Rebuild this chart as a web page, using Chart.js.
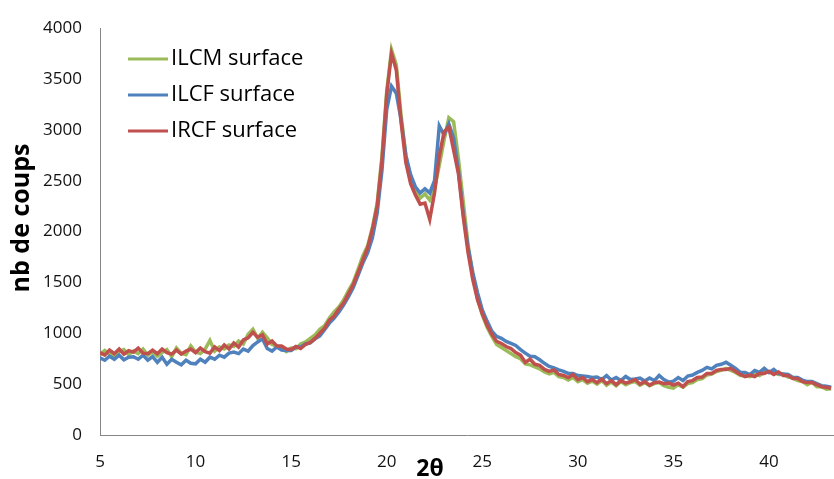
<!DOCTYPE html>
<html>
<head>
<meta charset="utf-8">
<script src="https://cdn.jsdelivr.net/npm/chart.js@4.4.0/dist/chart.umd.min.js"></script>
<style>
html, body { margin: 0; padding: 0; background: #fff; }
</style>
</head>
<body>
<canvas id="xrd" width="834" height="479"></canvas>
<script>
// 2theta grid: 5.00, 5.25, ... 43.25
const thetaStart = 5, thetaStep = 0.25;

const ilcm = [
    790, 830, 795, 780, 820, 840, 790, 825,
    800, 845, 785, 815, 775, 810, 840, 770,
    855, 805, 790, 875, 815, 800, 845, 930,
    825, 865, 845, 885, 870, 925, 895, 990,
    1040, 950, 1010, 955, 890, 875, 855, 820,
    855, 850, 895, 915, 950, 985, 1040, 1075,
    1150, 1210, 1260, 1330, 1420, 1500, 1630, 1760,
    1860, 2040, 2280, 2740, 3380, 3790, 3640, 3150,
    2750, 2510, 2400, 2330, 2370, 2310, 2420, 2650,
    2900, 3120, 3080, 2720, 2300, 1880, 1580, 1340,
    1180, 1060, 970, 890, 860, 830, 800, 770,
    750, 700, 690, 670, 650, 620, 600, 615,
    575, 565, 540, 565, 525, 545, 510, 530,
    500, 535, 490, 520, 485, 525, 495, 515,
    525, 490, 515, 485, 505, 515, 485, 470,
    460, 495, 470, 505, 515, 545, 555, 590,
    600, 625, 635, 655, 635, 615, 585, 585,
    575, 605, 585, 615, 625, 615, 595, 595,
    570, 560, 535, 525, 495, 520, 475, 475,
    450, 455
];
const ilcf = [
    760, 735, 775, 745, 785, 740, 765, 770,
    745, 785, 735, 770, 715, 765, 695, 745,
    715, 690, 735, 705, 700, 745, 715, 765,
    745, 785, 765, 805, 815, 800, 845, 825,
    880, 915, 945, 850, 825, 865, 835, 830,
    830, 865, 865, 895, 905, 945, 975, 1035,
    1100, 1150, 1210, 1280, 1360, 1450, 1570, 1690,
    1790, 1940, 2180, 2600, 3200, 3430, 3360, 3100,
    2750, 2560, 2440, 2380, 2420, 2380, 2500, 3040,
    2950, 3060, 2920, 2600, 2180, 1850, 1600, 1400,
    1230, 1120, 1020, 970, 950, 920, 900, 880,
    840, 805, 775, 770, 740, 705, 675, 660,
    640, 625, 605, 605, 585, 580, 575, 565,
    570, 545, 585, 540, 565, 535, 575, 545,
    550, 560, 530, 560, 535, 585, 545, 520,
    530, 565, 535, 580, 590, 615, 635, 665,
    650, 685, 695, 715, 685, 655, 615, 615,
    595, 635, 615, 655, 615, 645, 605, 600,
    595, 565, 565, 540, 525, 525, 505, 485,
    480, 470
];
const ircf = [
    810, 785, 835, 800, 845, 795, 830, 815,
    855, 805, 800, 835, 800, 845, 810, 795,
    835, 795, 825, 845, 810, 855, 820, 805,
    865, 830, 885, 845, 905, 865, 935, 955,
    1010, 960, 985, 895, 925, 875, 875, 845,
    840, 870, 850, 890, 910, 950, 1000, 1050,
    1130, 1170, 1240, 1300, 1390, 1480, 1600, 1720,
    1840, 2020, 2250, 2700, 3350, 3750, 3590, 3080,
    2680, 2470, 2360, 2270, 2280, 2120, 2380, 2740,
    2980, 3030, 2800, 2570, 2150, 1800, 1530, 1330,
    1190, 1080, 990, 920, 900, 870, 850, 810,
    785, 715, 745, 695, 685, 645, 625, 640,
    595, 585, 565, 595, 545, 565, 525, 545,
    515, 550, 505, 535, 495, 535, 510, 525,
    545, 500, 525, 490, 515, 520, 505, 510,
    490, 510, 475, 525, 535, 565, 570, 605,
    605, 635, 645, 645, 655, 625, 595, 575,
    590, 575, 605, 605, 625, 595, 620, 585,
    585, 555, 555, 525, 515, 515, 495, 475,
    470, 460
];

const seriesLabels = ['ILCM surface', 'ILCF surface', 'IRCF surface'];
const seriesColors = ['#9BBB59', '#4F81BD', '#C0504D'];

function toPoints(values) {
    return values.map((v, i) => ({ x: thetaStart + i * thetaStep, y: v }));
}

// legend inside the plot + axis titles
const decorations = {
    id: 'decorations',
    afterDraw(chart) {
        const ctx = chart.ctx;
        ctx.save();
        chart.data.datasets.forEach((ds, i) => {
            const y = 59 + i * 36;
            ctx.strokeStyle = ds.borderColor;
            ctx.lineWidth = 3;
            ctx.beginPath();
            ctx.moveTo(128, y);
            ctx.lineTo(168, y);
            ctx.stroke();
            ctx.fillStyle = '#000';
            ctx.font = '22px "Open Sans"';
            ctx.textBaseline = 'middle';
            ctx.textAlign = 'left';
            ctx.fillText(ds.label, 171, y);
        });

        ctx.font = 'bold 23px "Open Sans"';
        ctx.fillStyle = '#000';
        ctx.textAlign = 'center';
        ctx.textBaseline = 'middle';
        ctx.fillText('2θ', 430, 469);

        ctx.font = 'bold 25px "Open Sans"';
        ctx.translate(22, 218);
        ctx.rotate(-Math.PI / 2);
        ctx.fillText('nb de coups', 0, 0);
        ctx.restore();
    }
};

new Chart(document.getElementById('xrd'), {
    type: 'line',
    data: {
        datasets: [
            { label: seriesLabels[0], data: toPoints(ilcm), borderColor: seriesColors[0], order: 3 },
            { label: seriesLabels[1], data: toPoints(ilcf), borderColor: seriesColors[1], order: 2 },
            { label: seriesLabels[2], data: toPoints(ircf), borderColor: seriesColors[2], order: 1 }
        ]
    },
    options: {
        responsive: false,
        animation: false,
        layout: { padding: { top: 21, right: 0, left: 0, bottom: 0 } },
        elements: {
            point: { radius: 0 },
            line: { borderWidth: 3.5, tension: 0 }
        },
        plugins: {
            legend: { display: false },
            tooltip: { enabled: false }
        },
        scales: {
            x: {
                type: 'linear',
                min: 5,
                max: 43.4,
                grid: { display: false, drawTicks: false },
                border: { display: true, color: '#868686', width: 1 },
                ticks: {
                    stepSize: 5,
                    includeBounds: false,
                    padding: 17,
                    color: '#111',
                    font: { family: 'Open Sans', size: 17 },
                    maxRotation: 0
                },
                afterFit(scale) { scale.height = 44; }
            },
            y: {
                min: 0,
                max: 4000,
                grid: { display: false, drawTicks: false },
                border: { display: true, color: '#868686', width: 1 },
                ticks: {
                    stepSize: 500,
                    padding: 18,
                    color: '#111',
                    font: { family: 'Open Sans', size: 17 },
                    callback: (v) => String(v)
                },
                afterFit(scale) { scale.width = 100; }
            }
        }
    },
    plugins: [decorations]
});
</script>
</body>
</html>
